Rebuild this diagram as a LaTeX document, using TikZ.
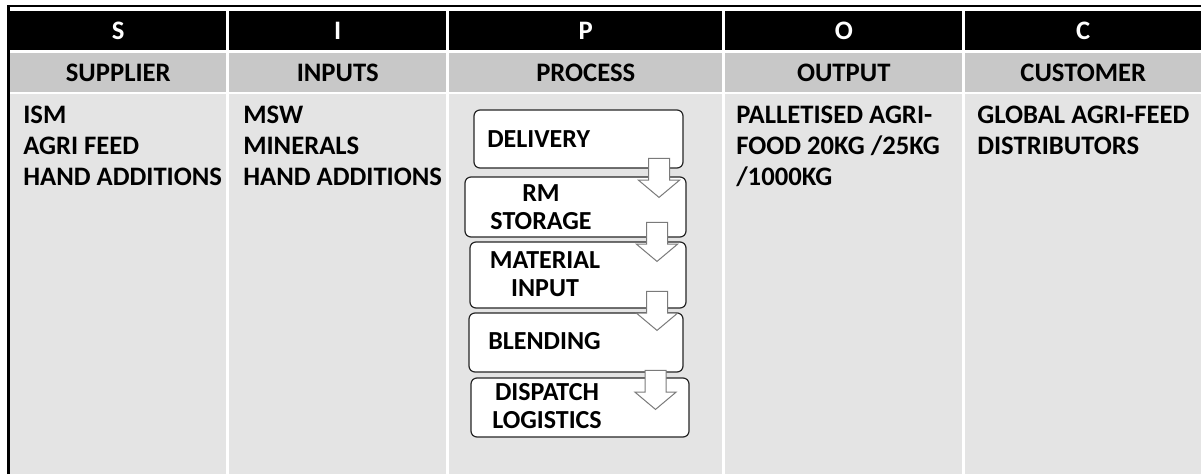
\documentclass[tikz,border=0pt]{standalone}
\usepackage{fontspec}
\setmainfont{Carlito}
\usetikzlibrary{shapes.arrows}
\newlength\pxu
\setlength\pxu{0.75pt}
\definecolor{headgray}{HTML}{C8C8C8}
\definecolor{bodygray}{HTML}{E4E4E4}
\definecolor{arrowline}{HTML}{7A7A7A}
\definecolor{boxline}{HTML}{262626}

\begin{document}
\begin{tikzpicture}[x=0.75pt,y=-0.75pt,
  txt/.style={font=\bfseries\fontsize{20}{23.25}\selectfont},
  boxtxt/.style={font=\bfseries\fontsize{19.5}{21}\selectfont},
  letterrow/.style={fill=black,text=white,txt,inner sep=0,anchor=north west,
    minimum height=39\pxu},
  titlerow/.style={fill=headgray,text=black,txt,inner sep=0,anchor=north west,
    minimum height=39\pxu},
  bodycell/.style={fill=bodygray,inner sep=0,anchor=north west,
    minimum height=380\pxu},
  celltext/.style={txt,align=left,inner sep=0,anchor=north west},
  pbox/.style={draw=boxline,fill=white,line width=1.2\pxu,rounded corners=6\pxu,
    inner sep=0},
  plabel/.style={boxtxt,align=center,inner sep=0},
  downarrow/.style={single arrow,draw=arrowline,fill=white,line width=1\pxu,
    rotate=-90,inner xsep=0,inner ysep=10\pxu,minimum height=39\pxu,
    single arrow head extend=10\pxu,single arrow tip angle=100}]

\useasboundingbox (0,0) rectangle (1201,474);
\fill[white] (0,0) rectangle (1201,474);

% outer frame: left and top rules only
\draw[line width=2.5\pxu] (8.5,474) -- (8.5,5.5);
\draw[line width=1.8\pxu] (7.3,6) -- (1201,6);

% table columns: name / left / width / letter / title
\foreach \n/\x/\w/\l/\t in {s/10/216/S/SUPPLIER, i/229/217/I/INPUTS,
    p/449/273/P/PROCESS, o/725/237/O/OUTPUT, c/965/236/C/CUSTOMER}{
  \node[letterrow,minimum width=\w\pxu] (letter\n) at (\x,11) {\l};
  \node[titlerow,minimum width=\w\pxu] (title\n) at (\x,53) {\t};
  \node[bodycell,minimum width=\w\pxu] (body\n) at (\x,94) {};
}

% cell contents
\node[celltext] (supplier) at (23,106) {ISM\\AGRI FEED\\HAND ADDITIONS};
\node[celltext] (inputs) at (243,106) {MSW\\MINERALS\\HAND ADDITIONS};
\node[celltext] (output) at (736,106) {PALLETISED AGRI-\\FOOD 20KG /25KG\\/1000KG};
\node[celltext] (customer) at (977,106) {GLOBAL AGRI-FEED\\DISTRIBUTORS};

% process steps
\node[pbox,minimum width=209\pxu,minimum height=58\pxu] (delivery) at (578.5,139) {};
\node[pbox,minimum width=221\pxu,minimum height=60\pxu] (storage) at (575.5,207) {};
\node[pbox,minimum width=216\pxu,minimum height=66\pxu] (material) at (578,275) {};
\node[pbox,minimum width=214\pxu,minimum height=59\pxu] (blending) at (576,342.5) {};
\node[pbox,minimum width=218\pxu,minimum height=59\pxu] (dispatch) at (580,407.5) {};

\node[plabel,anchor=west] (ldelivery) at (487,139) {DELIVERY};
\node[plabel] (lstorage) at (541,207) {RM\\STORAGE};
\node[plabel] (lmaterial) at (545,274) {MATERIAL\\INPUT};
\node[plabel,anchor=west] (lblending) at (488,341) {BLENDING};
\node[plabel] (ldispatch) at (547,406.5) {DISPATCH\\LOGISTICS};

% block arrows between the steps
\node[downarrow] (arr1) at (659,173.5) {};
\node[downarrow] (arr2) at (657,237.5) {};
\node[downarrow] (arr3) at (657,306.5) {};
\node[downarrow] (arr4) at (655.5,385.5) {};
\end{tikzpicture}
\end{document}
